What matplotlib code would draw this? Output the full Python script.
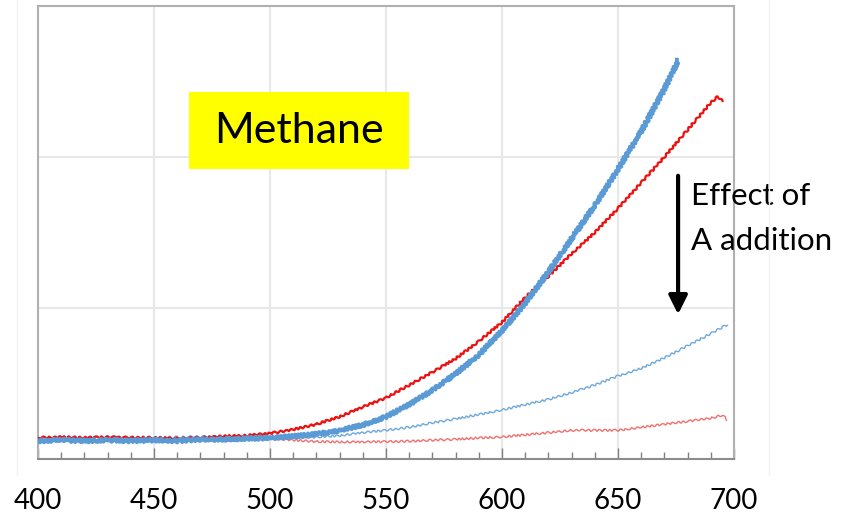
import numpy as np
import matplotlib.pyplot as plt
from matplotlib.patches import Rectangle
from matplotlib.lines import Line2D
from matplotlib.ticker import MultipleLocator

plt.rcParams['font.family'] = ['Lato', 'DejaVu Sans']

# 数据
x_blue = [400, 410, 420, 430, 440, 450, 460, 470, 480, 490, 500, 510, 520, 530, 540, 550,
          560, 570, 580, 590, 600, 610, 620, 630, 640, 650, 660, 670, 676]
y_blue = [0.12, 0.125, 0.12, 0.125, 0.12, 0.125, 0.12, 0.13, 0.13, 0.135, 0.14, 0.15, 0.165, 0.19, 0.225, 0.28,
          0.36, 0.455, 0.565, 0.69, 0.85, 1.03, 1.24, 1.46, 1.68, 1.92, 2.17, 2.45, 2.64]

x_red = [400, 410, 420, 430, 440, 450, 460, 470, 480, 490, 500, 510, 520, 530, 540, 550, 560, 570,
         580, 590, 600, 610, 620, 630, 640, 650, 660, 670, 680, 690, 693, 695]
y_red = [0.14, 0.145, 0.14, 0.145, 0.14, 0.14, 0.135, 0.14, 0.15, 0.155, 0.17, 0.195, 0.23, 0.28, 0.345, 0.405, 0.49, 0.575,
         0.665, 0.78, 0.905, 1.07, 1.21, 1.36, 1.50, 1.66, 1.83, 2.00, 2.18, 2.36, 2.40, 2.37]

x_blue_a = [400, 420, 440, 460, 480, 500, 510, 520, 530, 540, 550, 560, 570, 580, 590, 600,
            610, 620, 630, 640, 650, 660, 670, 680, 690, 697]
y_blue_a = [0.14, 0.145, 0.14, 0.145, 0.15, 0.14, 0.14, 0.145, 0.155, 0.175, 0.19, 0.21, 0.24, 0.265, 0.295, 0.325,
            0.36, 0.395, 0.44, 0.49, 0.55, 0.60, 0.67, 0.75, 0.83, 0.89]

x_red_a = [400, 420, 440, 460, 480, 500, 510, 520, 530, 540, 550, 560, 570, 580, 590, 600,
           610, 620, 630, 640, 650, 660, 670, 680, 690, 695, 697]
y_red_a = [0.145, 0.14, 0.145, 0.14, 0.145, 0.135, 0.125, 0.115, 0.113, 0.113, 0.115, 0.118, 0.125, 0.13, 0.14, 0.146,
           0.16, 0.175, 0.19, 0.19, 0.19, 0.21, 0.23, 0.25, 0.27, 0.29, 0.26]

fig = plt.figure(figsize=(8.49, 5.13), dpi=100)
ax = fig.add_axes([38 / 849, 54 / 513, 696 / 849, 453 / 513])

# 外框淡线
fig.add_artist(Line2D([17 / 849, 17 / 849], [38 / 513, 1], color='#f2f2f2', lw=1))
fig.add_artist(Line2D([769 / 849, 769 / 849], [38 / 513, 1], color='#f2f2f2', lw=1))

l1, = ax.plot(x_red_a, y_red_a, color='#f07070', lw=1.0, zorder=3)
l2, = ax.plot(x_blue_a, y_blue_a, color='#6fa8dc', lw=1.0, zorder=3)
l3, = ax.plot(x_red, y_red, color='#ee1111', lw=1.6, zorder=4)
l4, = ax.plot(x_blue, y_blue, color='#5b9bd5', lw=2.8, zorder=5)
for ln in (l1, l2, l3):
    ln.set_sketch_params(1.0, 6, 2)
l4.set_sketch_params(1.6, 4, 2)

ax.set_xlim(400, 700)
ax.set_ylim(0, 3)
ax.xaxis.set_major_locator(MultipleLocator(50))
ax.xaxis.set_minor_locator(MultipleLocator(10))
ax.set_yticks([1, 2])
ax.set_yticklabels([])
ax.tick_params(axis='y', length=0)
ax.tick_params(axis='x', which='major', direction='in', length=8, width=1, color='#808080',
               labelsize=20, pad=21)
ax.tick_params(axis='x', which='minor', direction='in', length=5, width=1, color='#808080')
ax.grid(True, which='major', color='#e8e8e8', lw=1.5)
ax.set_axisbelow(True)
for s in ax.spines.values():
    s.set_color('#b0b0b0')
    s.set_linewidth(1.5)
ax.spines['bottom'].set_color('#8c8c8c')

# 标注
ax.add_patch(Rectangle((465.1, 1.921), 94.8, 0.509, facecolor='#ffff00', edgecolor='none', zorder=6))
ax.text(512.5, 2.175, 'Methane', fontsize=31, ha='center', va='center', zorder=7)

ax.annotate('', xy=(675.9, 0.94), xytext=(675.9, 1.894),
            arrowprops=dict(arrowstyle='-|>', lw=3, color='black', mutation_scale=28), zorder=7)
ax.text(681.5, 1.682, 'Effect of', fontsize=22.5, va='baseline', ha='left', clip_on=False, zorder=7)
ax.text(681.5, 1.384, 'A addition', fontsize=22.5, va='baseline', ha='left', clip_on=False, zorder=7)

fig.savefig('out.png', dpi=100)
